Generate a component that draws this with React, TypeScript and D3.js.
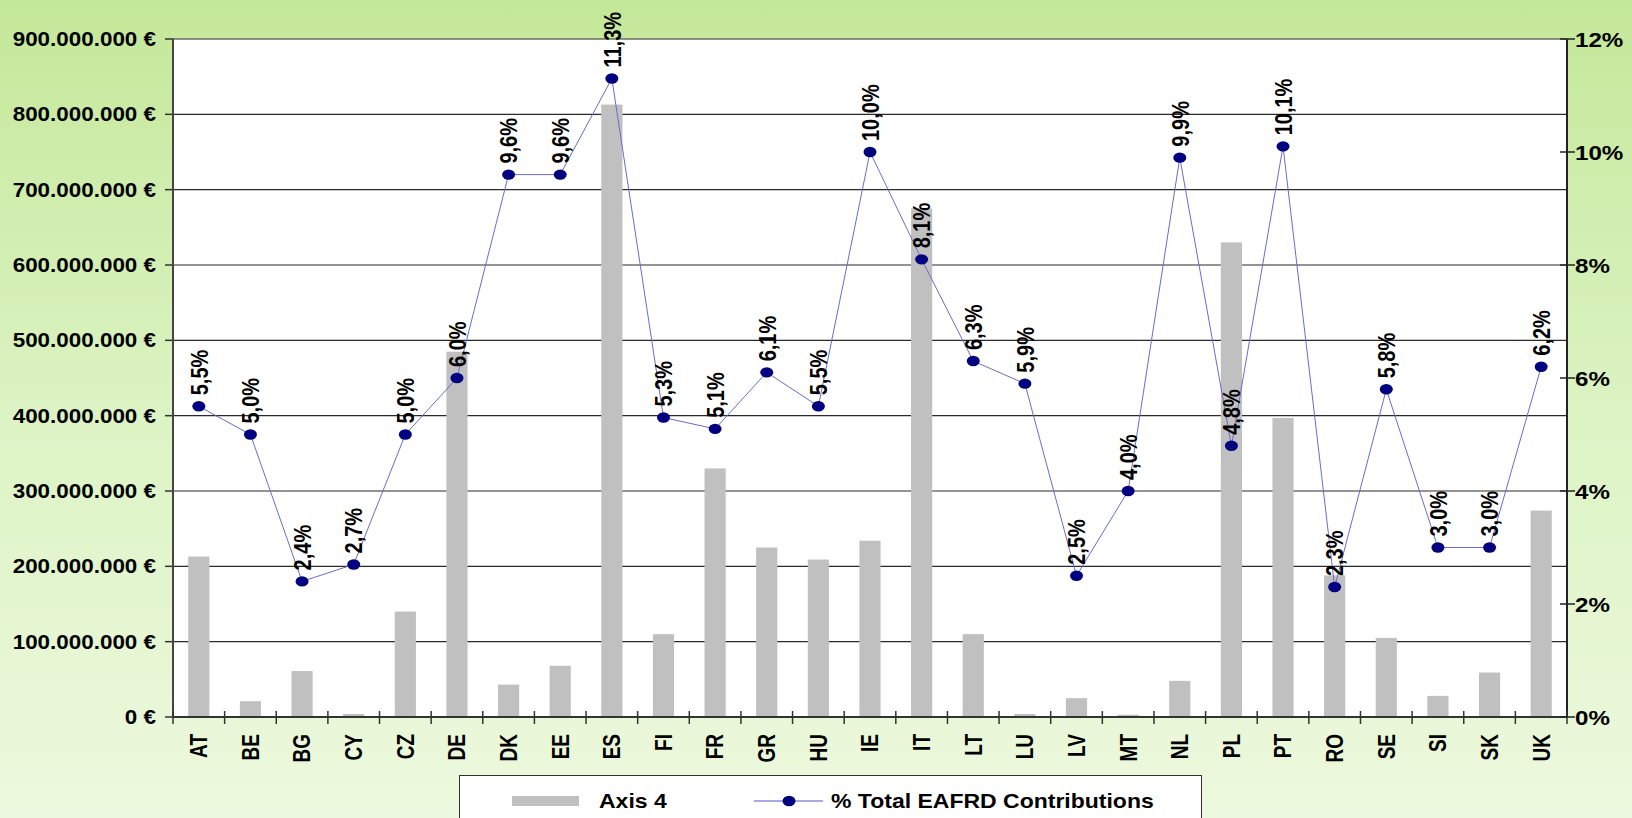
import { formatLocale, line, scaleBand, scaleLinear } from "d3";

const categories = ["AT", "BE", "BG", "CY", "CZ", "DE", "DK", "EE", "ES", "FI", "FR", "GR", "HU", "IE", "IT", "LT", "LU", "LV", "MT", "NL", "PL", "PT", "RO", "SE", "SI", "SK", "UK"];

// Axis 4 amounts in euro
const axis4 = [213e6, 21e6, 61e6, 4e6, 140e6, 485e6, 43e6, 68e6, 813e6, 110e6, 330e6, 225e6, 209e6, 234e6, 675e6, 110e6, 4e6, 25e6, 3e6, 48e6, 630e6, 397e6, 188e6, 105e6, 28e6, 59e6, 274e6];

// % of total EAFRD contributions (right axis)
const share = [5.5, 5.0, 2.4, 2.7, 5.0, 6.0, 9.6, 9.6, 11.3, 5.3, 5.1, 6.1, 5.5, 10.0, 8.1, 6.3, 5.9, 2.5, 4.0, 9.9, 4.8, 10.1, 2.3, 5.8, 3.0, 3.0, 6.2];

const euroTicks = [0, 100e6, 200e6, 300e6, 400e6, 500e6, 600e6, 700e6, 800e6, 900e6];
const pctTicks = [0, 2, 4, 6, 8, 10, 12];

const W = 1632;
const H = 818;
const left = 173;
const right = 1567;
const top = 39;
const bottom = 717;
const SX = 1.15; // text in the original is a bit wide
const FONT = "'Liberation Sans', Arial, sans-serif";

const de = formatLocale({ decimal: ",", thousands: ".", grouping: [3], currency: ["", " €"] });
const fmtEuro = (v: number) => de.format(",")(v) + " €";
const fmtPct = (v: number) => v.toFixed(1).replace(".", ",") + "%";

const x = scaleBand<string>().domain(categories).range([left, right]);
const yEuro = scaleLinear().domain([0, 900e6]).range([bottom, top]);
const yPct = scaleLinear().domain([0, 12]).range([bottom, top]);

const barW = x.bandwidth() * 0.41;
const cx = (c: string) => (x(c) as number) + x.bandwidth() / 2;

const pctLine = line<number>()
  .x((_, i) => cx(categories[i]))
  .y((d) => yPct(d));

// rough width of a bold label so tall labels stay inside the chart
const labelLen = (s: string, size: number) =>
  s.split("").reduce((a, ch) => a + (ch === "," ? 0.278 : ch === "%" ? 0.889 : 0.556), 0) * size;

export default function App() {
  const labelSize = 20;
  return (
    <>
      <style>{`body{margin:0}`}</style>
      <svg width={W} height={H} style={{ display: "block" }} fontFamily={FONT}>
        <defs>
          <linearGradient id="bg" x1="0" y1="0" x2="0" y2="1">
            <stop offset="0" stopColor="#c4e899" />
            <stop offset="0.5" stopColor="#dcf3c3" />
            <stop offset="1" stopColor="#edf9de" />
          </linearGradient>
        </defs>
        <rect width={W} height={H} fill="url(#bg)" />
        <rect x={left} y={top} width={right - left} height={bottom - top} fill="#fff" />

        {euroTicks.map((t) => (
          <g key={t}>
            <line x1={left} x2={right} y1={yEuro(t)} y2={yEuro(t)} stroke="#2a2a2a" strokeWidth={1.2} />
            <line x1={left - 8} x2={left} y1={yEuro(t)} y2={yEuro(t)} stroke="#333" strokeWidth={1.5} />
            <text
              transform={`translate(${left - 17},${yEuro(t)}) scale(${SX},1)`}
              dy="0.36em"
              textAnchor="end"
              fontSize={19.5}
              fontWeight="bold"
            >
              {fmtEuro(t)}
            </text>
          </g>
        ))}

        {categories.map((c, i) => (
          <rect
            key={c}
            x={cx(c) - barW / 2}
            y={yEuro(axis4[i])}
            width={barW}
            height={bottom - yEuro(axis4[i])}
            fill="#c0c0c0"
          />
        ))}

        <line x1={left} x2={left} y1={top} y2={bottom} stroke="#444" strokeWidth={2} />
        <line x1={right} x2={right} y1={top} y2={bottom} stroke="#222" strokeWidth={2} />
        <line x1={left} x2={right} y1={bottom} y2={bottom} stroke="#333" strokeWidth={2} />

        {[...categories.map((c) => x(c) as number), right].map((tx, i) => (
          <line key={i} x1={tx} x2={tx} y1={bottom - 6} y2={bottom + 7} stroke="#333" strokeWidth={1.5} />
        ))}

        {categories.map((c) => (
          <text
            key={c}
            transform={`translate(${cx(c)},${bottom + 17}) scale(1.22,1) rotate(-90)`}
            dy="0.36em"
            textAnchor="end"
            fontSize={19}
            fontWeight="bold"
          >
            {c}
          </text>
        ))}

        {pctTicks.map((t) => (
          <g key={t}>
            <line x1={right - 7} x2={right + 8} y1={yPct(t)} y2={yPct(t)} stroke="#222" strokeWidth={1.5} />
            <text
              transform={`translate(${right + 8},${yPct(t)}) scale(${SX},1)`}
              dy="0.36em"
              fontSize={21}
              fontWeight="bold"
            >
              {t}%
            </text>
          </g>
        ))}

        <path d={pctLine(share) as string} fill="none" stroke="#6b6bcc" strokeWidth={1} />
        {categories.map((c, i) => (
          <ellipse key={c} cx={cx(c)} cy={yPct(share[i])} rx={6.5} ry={5.2} fill="#000080" />
        ))}
        {categories.map((c, i) => {
          const s = fmtPct(share[i]);
          const start = Math.max(yPct(share[i]) - 11, 10 + labelLen(s, labelSize));
          return (
            <text
              key={c}
              transform={`translate(${cx(c)},${start}) scale(1.22,1) rotate(-90)`}
              dy="0.36em"
              fontSize={labelSize}
              fontWeight="bold"
            >
              {s}
            </text>
          );
        })}

        <g>
          <rect x={459.5} y={775.5} width={742} height={70} fill="#fff" stroke="#333" strokeWidth={1} />
          <rect x={512} y={796} width={67} height={10} fill="#c0c0c0" />
          <text transform={`translate(599,801) scale(${SX},1)`} dy="0.36em" fontSize={20} fontWeight="bold">
            Axis 4
          </text>
          <line x1={754} x2={823} y1={801} y2={801} stroke="#8c8cd8" strokeWidth={1.5} />
          <ellipse cx={789} cy={801} rx={6.5} ry={5.2} fill="#000080" />
          <text transform={`translate(831,801) scale(${SX},1)`} dy="0.36em" fontSize={20} fontWeight="bold">
            % Total EAFRD Contributions
          </text>
        </g>
      </svg>
    </>
  );
}
